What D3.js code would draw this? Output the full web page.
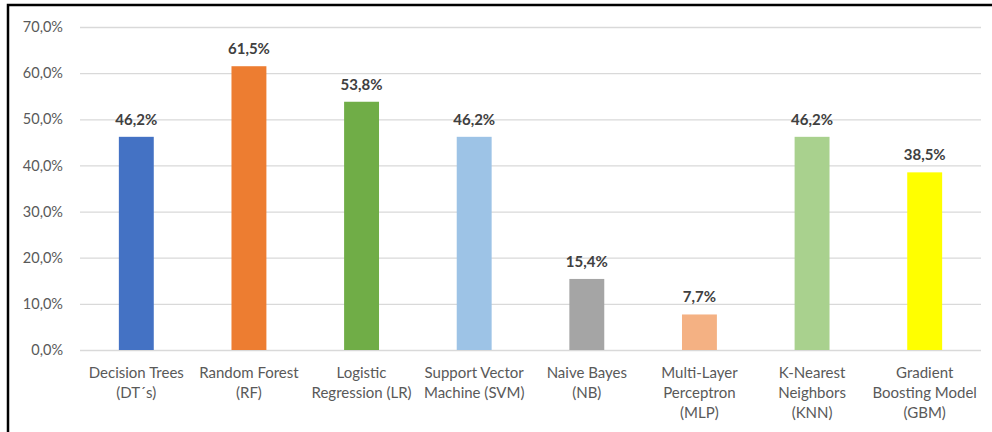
<!DOCTYPE html>
<html>
<head>
<meta charset="utf-8">
<script src="https://cdn.jsdelivr.net/npm/d3@7"></script>
<style>
  html, body { margin: 0; padding: 0; background: #fff; }
  svg { display: block; }
  text { font-family: Lato, "Open Sans", sans-serif; }
</style>
</head>
<body>
<svg id="chart" width="992" height="432"></svg>
<script>
// Share of studies using each model
const categories = [
  ["Decision Trees", "(DT´s)"],
  ["Random Forest", "(RF)"],
  ["Logistic", "Regression (LR)"],
  ["Support Vector", "Machine (SVM)"],
  ["Naive Bayes", "(NB)"],
  ["Multi-Layer", "Perceptron", "(MLP)"],
  ["K-Nearest", "Neighbors", "(KNN)"],
  ["Gradient", "Boosting Model", "(GBM)"]
];
const values = [46.2, 61.5, 53.8, 46.2, 15.4, 7.7, 46.2, 38.5];
const colors = ["#4472C4", "#ED7D31", "#70AD47", "#9DC3E6", "#A5A5A5", "#F4B183", "#A9D18E", "#FFFF00"];
const yTicks = [0, 10, 20, 30, 40, 50, 60, 70];

const svg = d3.select("#chart");
const W = 992, H = 432;
const margin = { left: 80, right: 11, top: 27, bottom: 82 };

const fmt = v => v.toFixed(1).replace(".", ",") + "%";

// Frame line along the top and left edges
svg.append("path")
  .attr("d", `M8,${H} L8,5 L${W},5`)
  .attr("fill", "none")
  .attr("stroke", "#000")
  .attr("stroke-width", 2.5);

const x = d3.scaleBand()
  .domain(d3.range(categories.length))
  .range([margin.left, W - margin.right])
  .paddingInner(0.69)
  .paddingOuter(0.345);

const y = d3.scaleLinear()
  .domain([0, 70])
  .range([H - margin.bottom, margin.top]);

// Gridlines and y labels
const yAxis = d3.axisLeft(y)
  .tickValues(yTicks)
  .tickFormat(d => fmt(d))
  .tickSize(-(W - margin.right - margin.left))
  .tickPadding(17);

const gy = svg.append("g")
  .attr("transform", `translate(${margin.left},0)`)
  .call(yAxis);
gy.select(".domain").remove();
gy.selectAll(".tick line").attr("stroke", "#D9D9D9").attr("stroke-width", 1.3);
gy.selectAll(".tick text")
  .attr("fill", "#595959")
  .attr("font-size", 14.5);

// Bars
svg.append("g").selectAll("rect")
  .data(values)
  .join("rect")
  .attr("x", (d, i) => x(i))
  .attr("width", x.bandwidth())
  .attr("y", d => y(d))
  .attr("height", d => y(0) - y(d))
  .attr("fill", (d, i) => colors[i]);

// Value labels
svg.append("g").selectAll("text")
  .data(values)
  .join("text")
  .attr("x", (d, i) => x(i) + x.bandwidth() / 2)
  .attr("y", d => y(d) - 12)
  .attr("text-anchor", "middle")
  .attr("font-size", 15)
  .attr("font-weight", "bold")
  .attr("fill", "#404040")
  .text(d => fmt(d));

// Category labels
const gx = svg.append("g").selectAll("text")
  .data(categories)
  .join("text")
  .attr("text-anchor", "middle")
  .attr("font-size", 15)
  .attr("fill", "#595959");
gx.each(function(lines, i) {
  const t = d3.select(this);
  lines.forEach((ln, k) => {
    t.append("tspan")
      .attr("x", x(i) + x.bandwidth() / 2)
      .attr("y", y(0) + 28 + k * 20)
      .text(ln);
  });
});
</script>
</body>
</html>
